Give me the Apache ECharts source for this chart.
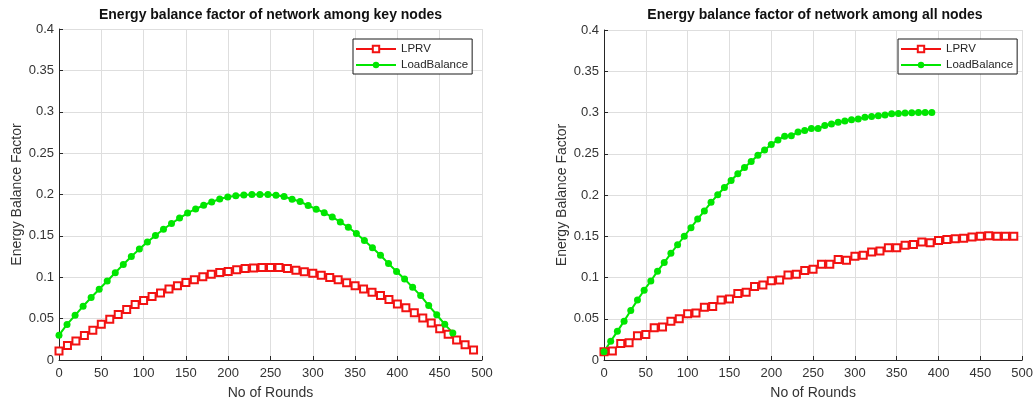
<!DOCTYPE html>
<html>
<head>
<meta charset="utf-8">
<script src="https://cdn.jsdelivr.net/npm/echarts@6/dist/echarts.min.js"></script>
<style>
  html, body { margin: 0; padding: 0; background: #fff; }
  #main { width: 1036px; height: 405px; }
</style>
</head>
<body>
<div id="main"></div>
<script>
//Chart 1: key nodes. LPRV is sampled every 10 rounds, LoadBalance every 9.5.
var keyLprvX = [0,10,20,30,40,50,60,70,80,90,100,110,120,130,140,150,160,170,180,190,200,210,220,230,240,
                250,260,270,280,290,300,310,320,330,340,350,360,370,380,390,400,410,420,430,440,450,460,470,480,490];
var keyLprvY = [0.011,0.0176,0.0231,0.0295,0.0359,0.0431,0.0491,0.0551,0.061,0.067,0.0718,0.0766,0.081,0.0858,0.0898,
                0.0938,0.097,0.1005,0.1037,0.1057,0.107,0.109,0.1105,0.1113,0.1117,0.1117,0.1117,0.1105,0.1085,0.1065,
                0.1049,0.1025,0.0998,0.097,0.0934,0.0898,0.0858,0.0818,0.0778,0.073,0.0678,0.063,0.0571,0.0507,0.0447,
                0.0379,0.0311,0.0243,0.0184,0.012];
var keyLbX = [0,9.5,19,28.5,38,47.5,57,66.5,76,85.5,95,104.5,114,123.5,133,142.5,152,161.5,171,180.5,190,199.5,209,218.5,228,
              237.5,247,256.5,266,275.5,285,294.5,304,313.5,323,332.5,342,351.5,361,370.5,380,389.5,399,408.5,418,427.5,437,446.5,456,465.5];
var keyLbY = [0.030,0.043,0.054,0.065,0.0755,0.0855,0.0955,0.1055,0.1155,0.125,0.134,0.1425,0.1505,0.158,0.165,
              0.1715,0.1775,0.1825,0.187,0.191,0.1945,0.197,0.1985,0.1995,0.2,0.2,0.2,0.199,0.1975,0.1943,
              0.1915,0.1867,0.1823,0.178,0.1728,0.1668,0.1604,0.1528,0.1444,0.1357,0.1265,0.1165,0.107,0.0978,0.0878,
              0.0778,0.0658,0.0547,0.0431,0.0327];

//Chart 2: all nodes. LPRV every 10 rounds, LoadBalance every 8.
var allLprvX = keyLprvX;
var allLprvY = [0.010,0.011,0.020,0.021,0.0295,0.031,0.039,0.040,0.047,0.050,0.056,0.057,0.064,0.065,0.0726,
                0.074,0.0806,0.082,0.089,0.091,0.096,0.097,0.103,0.104,0.1085,0.110,0.116,0.116,0.1217,0.121,
                0.1257,0.127,0.131,0.132,0.136,0.136,0.139,0.140,0.143,0.142,0.145,0.146,0.147,0.1475,0.149,
                0.150,0.1505,0.150,0.150,0.150];
var allLbX = [0,8,16,24,32,40,48,56,64,72,80,88,96,104,112,120,128,136,144,152,160,168,176,184,192,
              200,208,216,224,232,240,248,256,264,272,280,288,296,304,312,320,328,336,344,352,360,368,376,384,392];
var allLbY = [0.010,0.0227,0.0347,0.0471,0.0599,0.0726,0.0846,0.0958,0.1077,0.1181,0.1293,0.1397,0.150,0.1604,0.1708,
              0.1807,0.1911,0.2003,0.2091,0.2175,0.2258,0.2334,0.2406,0.2482,0.2546,0.2613,0.2668,0.2713,0.2718,0.2765,
              0.2781,0.2805,0.2805,0.2841,0.2861,0.2881,0.2897,0.2913,0.2921,0.2941,0.2953,0.2961,0.2969,0.2985,0.2989,
              0.2993,0.2997,0.300,0.300,0.300];

var titles = ['Energy balance factor of network among key nodes', 'Energy balance factor of network among all nodes'];
var seriesNames = ['LPRV', 'LoadBalance'];

var red = '#f21212';
var green = '#00e600';
var textCol = '#333333';

function pairs(xs, ys){
    var out = [];
    for (var i = 0; i < xs.length; i++){
        out.push([xs[i], ys[i]]);
    }
    return out;
}

function makeX(idx){
    return {
        type: 'value', gridIndex: idx, min: 0, max: 500, interval: 50,
        name: 'No of Rounds', nameLocation: 'middle', nameGap: 26,
        nameTextStyle: { fontSize: 14, color: textCol, fontFamily: 'Liberation Sans' },
        axisLine: { show: true, lineStyle: { color: '#262626', width: 1 } },
        axisTick: { show: true, inside: true, length: 4, lineStyle: { color: '#262626' } },
        axisLabel: { fontSize: 13, color: textCol, margin: 7, fontFamily: 'Liberation Sans' },
        splitLine: { show: true, lineStyle: { color: '#dedede', width: 1 } }
    };
}

function makeY(idx){
    return {
        type: 'value', gridIndex: idx, min: 0, max: 0.4, interval: 0.05,
        name: 'Energy Balance Factor', nameLocation: 'middle', nameGap: 35,
        nameTextStyle: { fontSize: 14, color: textCol, fontFamily: 'Liberation Sans' },
        axisLine: { show: true, lineStyle: { color: '#262626', width: 1 } },
        axisTick: { show: true, inside: true, length: 4, lineStyle: { color: '#262626' } },
        axisLabel: { fontSize: 13, color: textCol, margin: 5, fontFamily: 'Liberation Sans' },
        splitLine: { show: true, lineStyle: { color: '#dedede', width: 1 } }
    };
}

function makeLegend(left){
    return {
        orient: 'vertical', left: left, top: 39,
        data: seriesNames,
        backgroundColor: '#fff', borderColor: '#1a1a1a', borderWidth: 1,
        padding: [4, 4, 3, 2], itemGap: 4, itemWidth: 40, itemHeight: 8,
        textStyle: { fontSize: 11.5, color: '#262626', fontFamily: 'Liberation Sans' }
    };
}

function lprvSeries(idx, data){
    return {
        name: 'LPRV', type: 'line', xAxisIndex: idx, yAxisIndex: idx, data: data,
        symbol: 'emptyRect', symbolSize: 7, showAllSymbol: true,
        lineStyle: { color: red, width: 2 },
        itemStyle: { color: red, borderColor: red, borderWidth: 1.5 }
    };
}

function lbSeries(idx, data){
    return {
        name: 'LoadBalance', type: 'line', xAxisIndex: idx, yAxisIndex: idx, data: data,
        symbol: 'circle', symbolSize: 7, showAllSymbol: true,
        lineStyle: { color: green, width: 2 },
        itemStyle: { color: green }
    };
}

var chart = echarts.init(document.getElementById('main'));

chart.setOption({
    animation: false,
    backgroundColor: '#fff',
    title: [
        { text: titles[0], left: 270.5, top: 8, textAlign: 'center', padding: 0,
          textStyle: { fontSize: 14, fontWeight: 'bold', color: '#111', fontFamily: 'Liberation Sans' } },
        { text: titles[1], left: 815, top: 8, textAlign: 'center', padding: 0,
          textStyle: { fontSize: 14, fontWeight: 'bold', color: '#111', fontFamily: 'Liberation Sans' } }
    ],
    legend: [makeLegend(353), makeLegend(898)],
    grid: [
        { left: 59, top: 29, width: 423, height: 334 },
        { left: 604, top: 30, width: 422, height: 333 }
    ],
    xAxis: [makeX(0), makeX(1)],
    yAxis: [makeY(0), makeY(1)],
    series: [
        lprvSeries(0, pairs(keyLprvX, keyLprvY)),
        lbSeries(0, pairs(keyLbX, keyLbY)),
        lprvSeries(1, pairs(allLprvX, allLprvY)),
        lbSeries(1, pairs(allLbX, allLbY))
    ]
});
</script>
</body>
</html>
